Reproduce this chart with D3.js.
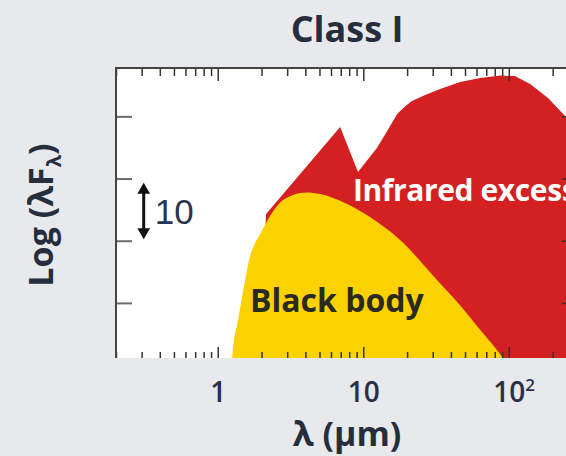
<!DOCTYPE html>
<html>
<head>
<meta charset="utf-8">
<script src="https://cdn.jsdelivr.net/npm/d3@7"></script>
<style>
    body { margin: 0; background: #e7e9ec; }
    svg { display: block; }
</style>
</head>
<body>
<script>

var titleText = 'Class I'
var xTitle = 'λ (μm)'
var yTitle = 'Log (λF'
var yTitleSub = 'λ'
var bbLabel = 'Black body'
var irLabel = 'Infrared excess'

var xMajorTicks = [1, 10, 100]
var xTickLabels = ['1', '10', '10']
var xTickExponents = ['', '', '2']
var yTickValues = [10, 100, 1000, 10000]

// black body, lambda in um, lambda*F_lambda in arbitrary units
var bbLambda = [1.25, 1.29, 1.38, 1.54, 1.72, 2.02, 2.36, 2.81, 3.68, 5.05, 7.5, 11.1, 17.9, 32.1, 46.2, 63.5, 80.5, 99]
var bbFlux = [1.0, 2.5, 5.3, 23, 71, 148, 279, 450, 585, 565, 404, 240, 103, 23.3, 9.2, 3.7, 1.9, 1.0]

// whole SED (star + infrared excess)
var sedLambda = [2.02, 2.15, 6.93, 9.2, 12.4, 14.6, 17.1, 19.4, 21.6, 26.6, 33.7, 46.3, 63.5, 87.2, 110, 140, 186, 247, 363, 583, 795]
var sedFlux = [23, 270, 6730, 1270, 3090, 5800, 10900, 14600, 17600, 22000, 27500, 35600, 41300, 45300, 44500, 33100, 19700, 9740, 2870, 71, 0.6]

// the "x10" scale marker
var markerLambda = 0.31
var markerFlux = [115, 785]
var markerText = '10'

function drawSed() {

    var width = 566
    var height = 456
    var plotLeft = 116
    var plotRight = 568
    var plotTop = 68
    var plotBottom = 358

    var svg = d3.select('body')
                    .append('svg')
                        .attr('width', width)
                        .attr('height', height)

    svg.append('rect')
            .attr('width', width)
            .attr('height', height)
            .attr('fill', '#e7e9ec')

    var x = d3.scaleLog()
                .domain([0.2, 255])
                .range([plotLeft, plotRight])

    var y = d3.scaleLog()
                .domain([1.3, 6e4])
                .range([plotBottom, plotTop])

    svg.append('clipPath')
            .attr('id', 'plot-clip')
        .append('rect')
            .attr('x', plotLeft)
            .attr('y', plotTop)
            .attr('width', plotRight - plotLeft)
            .attr('height', plotBottom - plotTop)

    svg.append('rect')
            .attr('x', plotLeft)
            .attr('y', plotTop)
            .attr('width', plotRight - plotLeft)
            .attr('height', plotBottom - plotTop)
            .attr('fill', 'white')

    var plot = svg.append('g').attr('clip-path', 'url(#plot-clip)')

    var sedArea = d3.area()
                    .x(d => x(d[0]))
                    .y0(plotBottom + 40)
                    .y1(d => y(d[1]))

    plot.append('path')
            .datum(d3.zip(sedLambda, sedFlux))
            .attr('d', sedArea)
            .attr('fill', '#d42020')

    plot.append('path')
            .datum(d3.zip(bbLambda, bbFlux))
            .attr('d', sedArea.curve(d3.curveCatmullRom))
            .attr('fill', '#fbd200')

    plot.append('text')
            .text(irLabel)
            .attr('x', 353)
            .attr('y', 201)
            .style('font-family', '"Open Sans", sans-serif')
            .style('font-weight', 'bold')
            .style('font-size', '30px')
            .style('letter-spacing', '-0.4px')
            .attr('fill', 'white')

    plot.append('text')
            .text(bbLabel)
            .attr('x', 250)
            .attr('y', 312)
            .style('font-family', '"Open Sans", sans-serif')
            .style('font-weight', 'bold')
            .style('font-size', '32px')
            .attr('fill', '#2b2a1e')

    // ticks on the frame, pointing inwards
    var minorTicks = x.ticks().filter(d => xMajorTicks.indexOf(d) < 0)

    function tickAxis(axis, values, size, tx, ty, colour, w) {
        var g = svg.append('g')
                    .attr('transform', 'translate(' + tx + ',' + ty + ')')
                    .call(axis.tickValues(values).tickSize(size).tickFormat(''))
        g.select('.domain').remove()
        g.selectAll('.tick line')
                .attr('stroke', colour)
                .attr('stroke-width', w)
        return g
    }

    tickAxis(d3.axisBottom(x), minorTicks, 8, 0, plotTop, '#333', 1.5)
    tickAxis(d3.axisBottom(x), xMajorTicks, 13, 0, plotTop, '#333', 1.5)
    tickAxis(d3.axisTop(x), minorTicks, 6, 0, plotBottom, '#333', 1.5)
    tickAxis(d3.axisTop(x), xMajorTicks, 11, 0, plotBottom, '#333', 1.5)
    tickAxis(d3.axisRight(y), yTickValues, 16, plotLeft, 0, '#6a6a6a', 2)
    tickAxis(d3.axisLeft(y), yTickValues, 6, plotRight, 0, '#333', 1.5)

    svg.append('path')
            .attr('d', d3.line()([[plotLeft, plotBottom], [plotLeft, plotTop], [plotRight, plotTop], [plotRight, plotBottom]]))
            .attr('fill', 'none')
            .attr('stroke', '#444')
            .attr('stroke-width', 2)

    var labels = svg.append('g')
                    .attr('transform', 'translate(0,' + plotBottom + ')')
                    .call(d3.axisBottom(x)
                            .tickValues(xMajorTicks)
                            .tickSize(0)
                            .tickFormat((d, i) => xTickLabels[i]))
    labels.select('.domain').remove()
    labels.selectAll('.tick text')
            .attr('y', 44)
            .attr('dy', 0)
            .style('font-family', '"Open Sans", sans-serif')
            .style('font-weight', '600')
            .style('font-size', '28px')
            .attr('fill', '#2a2f45')
    labels.selectAll('.tick')
            .filter((d, i) => xTickExponents[i] != '')
        .append('text')
            .text((d, i) => xTickExponents[xMajorTicks.indexOf(d)])
            .attr('x', 16)
            .attr('y', 33)
            .attr('text-anchor', 'start')
            .style('font-family', '"Open Sans", sans-serif')
            .style('font-weight', '600')
            .style('font-size', '17px')
            .attr('fill', '#2a2f45')

    // scale marker
    var mx = x(markerLambda)
    var top = y(markerFlux[1])
    var bottom = y(markerFlux[0])
    svg.append('line')
            .attr('x1', mx)
            .attr('x2', mx)
            .attr('y1', top + 6)
            .attr('y2', bottom - 6)
            .attr('stroke', '#111')
            .attr('stroke-width', 3)
    var head = d3.symbol().type(d3.symbolTriangle).size(70)
    svg.append('path')
            .attr('d', head)
            .attr('transform', 'translate(' + mx + ',' + (top + 5) + ')')
            .attr('fill', '#111')
    svg.append('path')
            .attr('d', head)
            .attr('transform', 'translate(' + mx + ',' + (bottom - 5) + ') rotate(180)')
            .attr('fill', '#111')
    svg.append('text')
            .text(markerText)
            .attr('x', mx + 11)
            .attr('y', (top + bottom) / 2 + 13)
            .style('font-family', '"Liberation Sans Narrow", "Liberation Sans", sans-serif')
            .style('font-size', '35px')
            .attr('fill', '#2c3350')

    // titles
    svg.append('text')
            .text(titleText)
            .attr('x', 347)
            .attr('y', 42)
            .attr('text-anchor', 'middle')
            .style('font-family', '"Open Sans", sans-serif')
            .style('font-weight', 'bold')
            .style('font-size', '36px')
            .attr('fill', '#262e3e')

    svg.append('text')
            .text(xTitle)
            .attr('x', 347)
            .attr('y', 446)
            .attr('text-anchor', 'middle')
            .style('font-family', '"Open Sans", sans-serif')
            .style('font-weight', 'bold')
            .style('font-size', '34px')
            .attr('fill', '#262e3e')

    var yt = svg.append('text')
                .attr('transform', 'translate(53,215) rotate(-90)')
                .attr('text-anchor', 'middle')
                .style('font-family', '"Open Sans", sans-serif')
                .style('font-weight', 'bold')
                .style('font-size', '34px')
                .attr('fill', '#262e3e')
    yt.append('tspan').text(yTitle)
    yt.append('tspan').text(yTitleSub).attr('dy', 8).style('font-size', '20px')
    yt.append('tspan').text(')').attr('dy', -8)

}

drawSed()

</script>
</body>
</html>
